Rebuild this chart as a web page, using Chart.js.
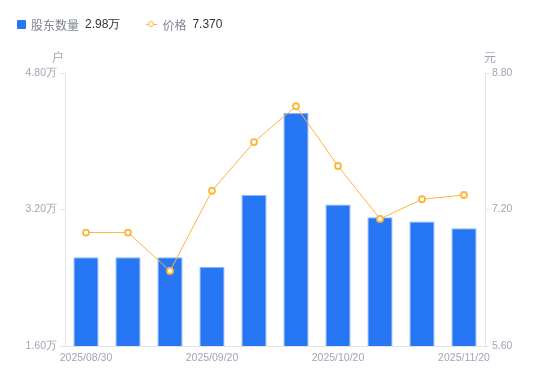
<!DOCTYPE html>
<html>
<head>
<meta charset="utf-8">
<script src="https://cdn.jsdelivr.net/npm/chart.js@4.4.1/dist/chart.umd.min.js"></script>
<style>
  html, body { margin: 0; padding: 0; background: #fff; }
  #wrap { position: relative; width: 550px; height: 381px; }
  #legend {
    position: absolute; left: 17px; top: 16px; font: 12px "Noto Sans CJK SC", "Liberation Sans", sans-serif;
    display: flex; align-items: center; height: 16px;
  }
  .sw { display: inline-block; width: 9px; height: 9px; border-radius: 1px; background: #2777f5; margin-right: 5px; }
  .lbl { color: #808496; margin-right: 6px; }
  .val { color: #333; margin-right: 26px; font-family: "Liberation Sans", sans-serif; }
  .ln { position: relative; display: inline-block; width: 11px; height: 9px; margin-right: 5px; }
  .ln::before { content: ""; position: absolute; left: 0; right: 0; top: 4px; height: 1px; background: #ffb43a; }
  .ln::after { content: ""; position: absolute; left: 2px; top: 1px; width: 4px; height: 4px; border: 1.6px solid #ffb43a; border-radius: 50%; background: #fff; }
</style>
</head>
<body>
<div id="wrap">
  <canvas id="c" width="550" height="381"></canvas>
  <div id="legend">
    <span class="sw"></span><span class="lbl">股东数量</span><span class="val">2.98万</span>
    <span class="ln"></span><span class="lbl">价格</span><span class="val">7.370</span>
  </div>
</div>
<script>
// 股东数量 (万户) vs 股价 (元)
const dates = ["2025/08/30", "2025/09/05", "2025/09/12", "2025/09/20", "2025/09/30",
               "2025/10/10", "2025/10/20", "2025/10/31", "2025/11/10", "2025/11/20"];
const holders = [2.64, 2.64, 2.64, 2.53, 3.37, 4.33, 3.26, 3.11, 3.06, 2.98];
const prices = [6.93, 6.93, 6.48, 7.42, 7.99, 8.41, 7.71, 7.09, 7.32, 7.37];
const shownLabels = [0, 3, 6, 9];

const tickColor = "#a2a5b5";
const axisColor = "#e3e4e8";
const tickFont = { family: "Liberation Sans, sans-serif", size: 10.5 };

const unitTitles = {
  id: "unitTitles",
  afterDraw(chart) {
    const { ctx, chartArea } = chart;
    ctx.save();
    ctx.fillStyle = tickColor;
    ctx.font = '12px "Noto Sans CJK SC", sans-serif';
    ctx.textAlign = "center";
    ctx.textBaseline = "middle";
    ctx.fillText("户", chartArea.left - 7, chartArea.top - 16);
    ctx.fillText("元", chartArea.right + 5, chartArea.top - 16);
    ctx.restore();
  }
};

new Chart(document.getElementById("c").getContext("2d"), {
  type: "bar",
  data: {
    labels: dates,
    datasets: [
      {
        type: "line",
        label: "价格",
        data: prices,
        yAxisID: "y1",
        borderColor: "#ffb43a",
        borderWidth: 1,
        pointRadius: 3,
        pointBorderWidth: 1.8,
        pointBackgroundColor: "#fff",
        pointBorderColor: "#ffb43a",
        tension: 0,
        order: 0,
      },
      {
        label: "股东数量",
        data: holders,
        yAxisID: "y",
        backgroundColor: "#2777f5",
        borderColor: "#8cb8fb",
        borderWidth: { top: 1, left: 1, right: 1, bottom: 0 },
        barPercentage: 0.6,
        categoryPercentage: 1,
        order: 1,
      },
    ],
  },
  options: {
    responsive: false,
    animation: false,
    layout: { padding: { top: 73, left: 0, right: 0, bottom: 0 } },
    plugins: { legend: { display: false }, tooltip: { enabled: false } },
    scales: {
      x: {
        grid: { display: false, drawTicks: false },
        border: { display: true, color: axisColor },
        ticks: {
          color: tickColor, font: tickFont, autoSkip: false, maxRotation: 0, padding: 6,
          callback: (v, i) => shownLabels.includes(i) ? dates[i] : "",
        },
        afterFit: (s) => { s.height = 35; },
      },
      y: {
        position: "left",
        min: 1.6, max: 4.8,
        grid: { display: true, drawOnChartArea: false, color: axisColor, tickLength: 5 },
        border: { display: true, color: axisColor },
        ticks: { stepSize: 1.6, color: tickColor, font: tickFont, padding: 3,
                 callback: (v) => v.toFixed(2) + "万" },
        afterFit: (s) => { s.width = 65; },
      },
      y1: {
        position: "right",
        min: 5.6, max: 8.8,
        grid: { display: true, drawOnChartArea: false, color: axisColor, tickLength: 4 },
        border: { display: true, color: axisColor },
        ticks: { stepSize: 1.6, color: tickColor, font: tickFont, padding: 3,
                 callback: (v) => v.toFixed(2) },
        afterFit: (s) => { s.width = 65; },
      },
    },
  },
  plugins: [unitTitles],
});
</script>
</body>
</html>
